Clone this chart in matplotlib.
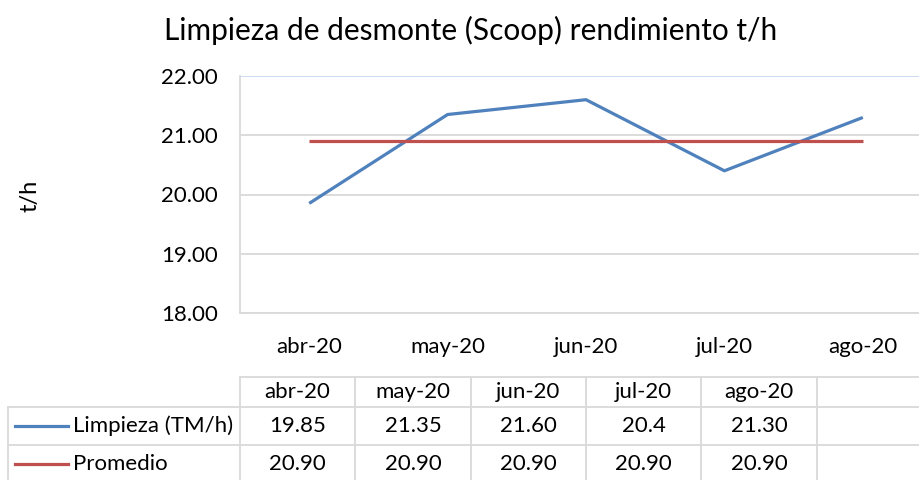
import matplotlib
matplotlib.use("Agg")
import matplotlib.pyplot as plt
from matplotlib.lines import Line2D

plt.rcParams['font.family'] = ['Lato', 'DejaVu Sans']

title = "Limpieza de desmonte (Scoop) rendimiento t/h"
ylabel = "t/h"
categories = ["abr-20", "may-20", "jun-20", "jul-20", "ago-20"]
limpieza = [19.85, 21.35, 21.60, 20.4, 21.30]
promedio = [20.90, 20.90, 20.90, 20.90, 20.90]
limpieza_txt = ["19.85", "21.35", "21.60", "20.4", "21.30"]
promedio_txt = ["20.90", "20.90", "20.90", "20.90", "20.90"]
series_names = ["Limpieza (TM/h)", "Promedio"]
yticks = [18, 19, 20, 21, 22]

W, H = 920, 480
BLUE = "#4F81BD"
RED = "#C0504D"
GRID = "#D9D9D9"
TOPLINE = "#C6D9F1"
FS = 16

fig = plt.figure(figsize=(W / 100, H / 100), dpi=100)

def fx(x):
    return x / W

def fy(y):
    return 1 - y / H

# Plot area
L, R, T, B = 240, 932, 76, 313
ax = fig.add_axes([fx(L), fy(B), (R - L) / W, (B - T) / H])
x = list(range(len(categories)))
ax.plot(x, limpieza, color=BLUE, lw=2.3, solid_capstyle='butt', zorder=3)
ax.plot(x, promedio, color=RED, lw=2.3, solid_capstyle='butt', zorder=3)
ax.set_xlim(-0.5, len(categories) - 0.5)
ax.set_ylim(18, 22)
ax.set_yticks(yticks)
ax.set_yticklabels([f"{v:.2f}" for v in yticks], fontsize=FS)
ax.set_xticks(x)
ax.set_xticklabels(categories, fontsize=FS)
ax.tick_params(axis='y', length=0, pad=16)
ax.tick_params(axis='x', length=0, pad=17)
ax.grid(axis='y', color=GRID, lw=1.3)
ax.set_axisbelow(True)
gl = ax.get_ygridlines()
gl[-1].set_color(TOPLINE)
for s in ['top', 'right']:
    ax.spines[s].set_visible(False)
ax.spines['left'].set_color(GRID)
ax.spines['left'].set_linewidth(1.3)
ax.spines['bottom'].set_color(GRID)
ax.spines['bottom'].set_linewidth(1.3)

fig.text(fx(471), fy(30), title, ha='center', va='center', fontsize=21.5)
fig.text(fx(30), fy(196), ylabel, ha='center', va='center', fontsize=17, rotation=90)

# Data table
col_w = (R - L) / 6
cols = [L + i * col_w for i in range(7)]
rows = [377, 407, 445, 480]

def hline(y, x0, x1):
    fig.add_artist(Line2D([fx(x0), fx(x1)], [fy(y), fy(y)], color=GRID, lw=1.3,
                          transform=fig.transFigure))

def vline(x, y0, y1):
    fig.add_artist(Line2D([fx(x), fx(x)], [fy(y0), fy(y1)], color=GRID, lw=1.3,
                          transform=fig.transFigure))

hline(rows[0], L, R)
hline(rows[1], 8, R)
hline(rows[2], 8, R)
vline(8, rows[1], 485)
for c in cols[:-1]:
    vline(c, rows[0], 485)

for i, cat in enumerate(categories):
    cx = (cols[i] + cols[i + 1]) / 2
    fig.text(fx(cx), fy(392), cat, ha='center', va='center', fontsize=FS)
    fig.text(fx(cx), fy(426), limpieza_txt[i], ha='center', va='center', fontsize=FS)
    fig.text(fx(cx), fy(464), promedio_txt[i], ha='center', va='center', fontsize=FS)

for name, color, yy in [(series_names[0], BLUE, 426), (series_names[1], RED, 464)]:
    fig.add_artist(Line2D([fx(15), fx(68)], [fy(yy), fy(yy)], color=color, lw=2.3,
                          transform=fig.transFigure))
    fig.text(fx(73), fy(yy), name, ha='left', va='center', fontsize=FS)

fig.savefig("out.png", dpi=100)
